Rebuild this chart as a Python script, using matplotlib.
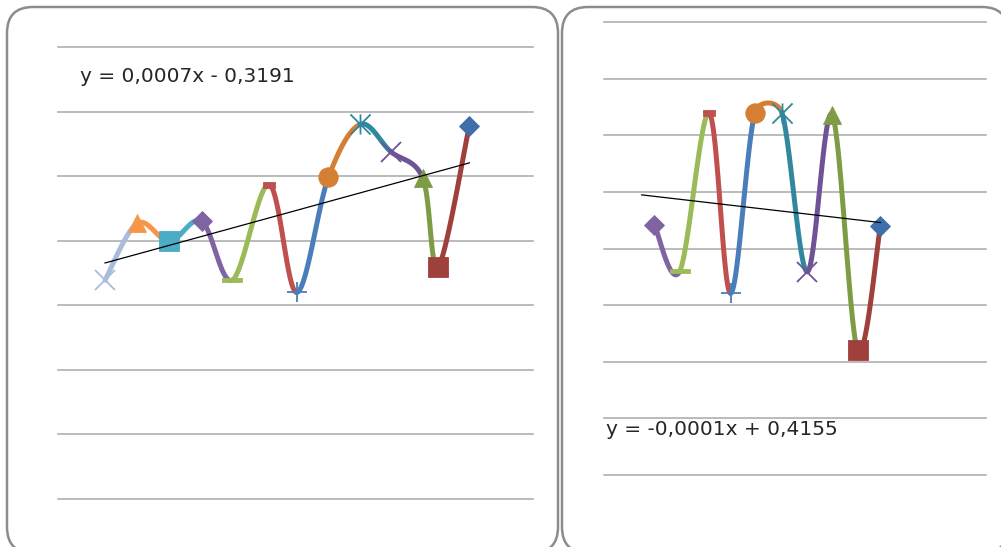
import numpy as np
import matplotlib
matplotlib.use("Agg")
import matplotlib.pyplot as plt
from matplotlib.patches import FancyBboxPatch
from matplotlib.path import Path

# === Data ===
left_x = [978.0, 997.6, 1017.1, 1036.8, 1055.4, 1077.7, 1094.6, 1113.8, 1133.0, 1151.7, 1171.2, 1180.6, 1199.5]
left_y = [0.339, 0.427, 0.399, 0.430, 0.339, 0.487, 0.320, 0.498, 0.580, 0.538, 0.497, 0.360, 0.578]
left_markers = ["x", "triangle", "square", "diamond", "long_dash", "short_dash", "plus",
                "circle", "star", "x", "triangle", "square", "diamond"]
left_colors = ["#A9BCDB", "#F79646", "#4BACC6", "#8064A2", "#9BBB59", "#C0504D", "#4A7EBB",
               "#D47F34", "#31889E", "#6E5496", "#7E9C44", "#A0403D", "#3F6FAA"]
left_slope, left_intercept = 0.0007, -0.3191
left_trend_x = [978.0, 1199.5]
left_label = "y = 0,0007x - 0,3191"

right_x = [3234, 3286, 3346, 3390, 3440, 3495, 3547, 3598, 3650, 3697]
right_y = [0.042, -0.040, 0.239, -0.079, 0.240, 0.240, -0.041, 0.236, -0.179, 0.040]
right_markers = ["diamond", "long_dash", "short_dash", "plus", "circle", "star", "x",
                 "triangle", "square", "diamond"]
right_colors = ["#8064A2", "#9BBB59", "#C0504D", "#4A7EBB", "#D47F34", "#31889E", "#6E5496",
                "#7E9C44", "#A0403D", "#3F6FAA"]
right_slope, right_intercept = -0.0001, 0.4155
right_trend_x = [3208.0, 3697.0]
right_label = "y = -0,0001x + 0,4155"

# === Marker shapes ===
STAR = Path([(-1, -1), (1, 1), (-1, 1), (1, -1), (0, -1), (0, 1)],
            [Path.MOVETO, Path.LINETO] * 3)
LONG_DASH = [(-1, -0.25), (1, -0.25), (1, 0.25), (-1, 0.25), (-1, -0.25)]
SHORT_DASH = [(-1, -0.45), (1, -0.45), (1, 0.45), (-1, 0.45), (-1, -0.45)]

MARKERS = {
    "diamond": ("D", 10, True),
    "square": ("s", 14, True),
    "triangle": ("^", 13.5, True),
    "circle": ("o", 14, True),
    "long_dash": (LONG_DASH, 14, True),
    "short_dash": (SHORT_DASH, 8.5, True),
    "x": ("x", 14.5, False),
    "plus": ("+", 14, False),
    "star": (STAR, 14.5, False),
}

W, H = 1001, 547


def smooth_segments(xs, ys, sx, sy, n=60):
    # catmull-rom style bezier pieces, control arms capped at half the segment (pixel space)
    scale = np.array([sx, sy])
    pts = np.column_stack([xs, ys]).astype(float) * scale
    ext = np.vstack([pts[0], pts, pts[-1]])
    t = np.linspace(0, 1, n)[:, None]
    segs = []
    for i in range(len(pts) - 1):
        p0, p1, p2, p3 = ext[i], ext[i + 1], ext[i + 2], ext[i + 3]
        d12 = np.hypot(*(p2 - p1))
        a1 = (p2 - p0) / 6
        a2 = (p3 - p1) / 6
        for a in (a1, a2):
            la = np.hypot(*a)
            if la > d12 / 2:
                a *= (d12 / 2) / la
        c1 = p1 + a1
        c2 = p2 - a2
        curve = ((1 - t) ** 3 * p1 + 3 * (1 - t) ** 2 * t * c1
                 + 3 * (1 - t) * t ** 2 * c2 + t ** 3 * p2)
        segs.append(curve / scale)
    return segs


def draw_panel(ax, xs, ys, markers, colors, slope, intercept, trend_x, xlim, ylim, grid_vals):
    ax.set_xlim(*xlim)
    ax.set_ylim(*ylim)
    bbox = ax.get_position()
    sx = bbox.width * W / (xlim[1] - xlim[0])
    sy = bbox.height * H / (ylim[1] - ylim[0])
    for v in grid_vals:
        ax.axhline(v, color="#A8A8A8", lw=1.1, zorder=0, clip_on=False)
    for seg, c in zip(smooth_segments(xs, ys, sx, sy), colors):
        ax.plot(seg[:, 0], seg[:, 1], color=c, lw=3.6, solid_capstyle="round",
                zorder=2, clip_on=False)
    for x, y, m, c in zip(xs, ys, markers, colors):
        shape, size, filled = MARKERS[m]
        if filled:
            ax.plot(x, y, marker=shape, ms=size, mfc=c, mec=c, mew=0.6,
                    ls="none", zorder=3, clip_on=False)
        else:
            ax.plot(x, y, marker=shape, ms=size, mfc="none", mec=c, mew=1.3,
                    ls="none", zorder=3, clip_on=False)
    tx = np.array(trend_x)
    ax.plot(tx, slope * tx + intercept, color="black", lw=0.9, zorder=4)
    ax.set_yticks([])
    ax.set_xticks([])
    for s in ax.spines.values():
        s.set_visible(False)
    ax.patch.set_visible(False)


fig = plt.figure(figsize=(W / 100, H / 100), dpi=100)

# background layer in pixel units: rounded chart frames
bg = fig.add_axes([0, 0, 1, 1], zorder=-1)
bg.set_xlim(0, W)
bg.set_ylim(H, 0)
bg.axis("off")
for x0, w in [(7, 551), (562, 446)]:
    bg.add_patch(FancyBboxPatch((x0, 7), w, 546, boxstyle="round,pad=0,rounding_size=26",
                                fc="white", ec="#8C8C8C", lw=1.8))

ax1 = fig.add_axes([58 / W, (H - 499) / H, (533 - 58) / W, (499 - 47) / H])
draw_panel(ax1, left_x, left_y, left_markers, left_colors, left_slope, left_intercept,
           left_trend_x, (949.4, 1238.2), (0, 0.7), np.arange(0, 0.71, 0.1))

ax2 = fig.add_axes([604 / W, (H - 475) / H, (986 - 604) / W, (475 - 22) / H])
draw_panel(ax2, right_x, right_y, right_markers, right_colors, right_slope, right_intercept,
           right_trend_x, (3130.8, 3913.1), (-0.4, 0.4), np.arange(-0.4, 0.41, 0.1))

# trendline equations
fig.text(80 / W, 1 - 82 / H, left_label, fontsize=14.5, family="DejaVu Sans",
         color="#262626", va="baseline")
fig.text(606 / W, 1 - 435 / H, right_label, fontsize=14.5, family="DejaVu Sans",
         color="#262626", va="baseline")

fig.savefig("out.png", dpi=100)
